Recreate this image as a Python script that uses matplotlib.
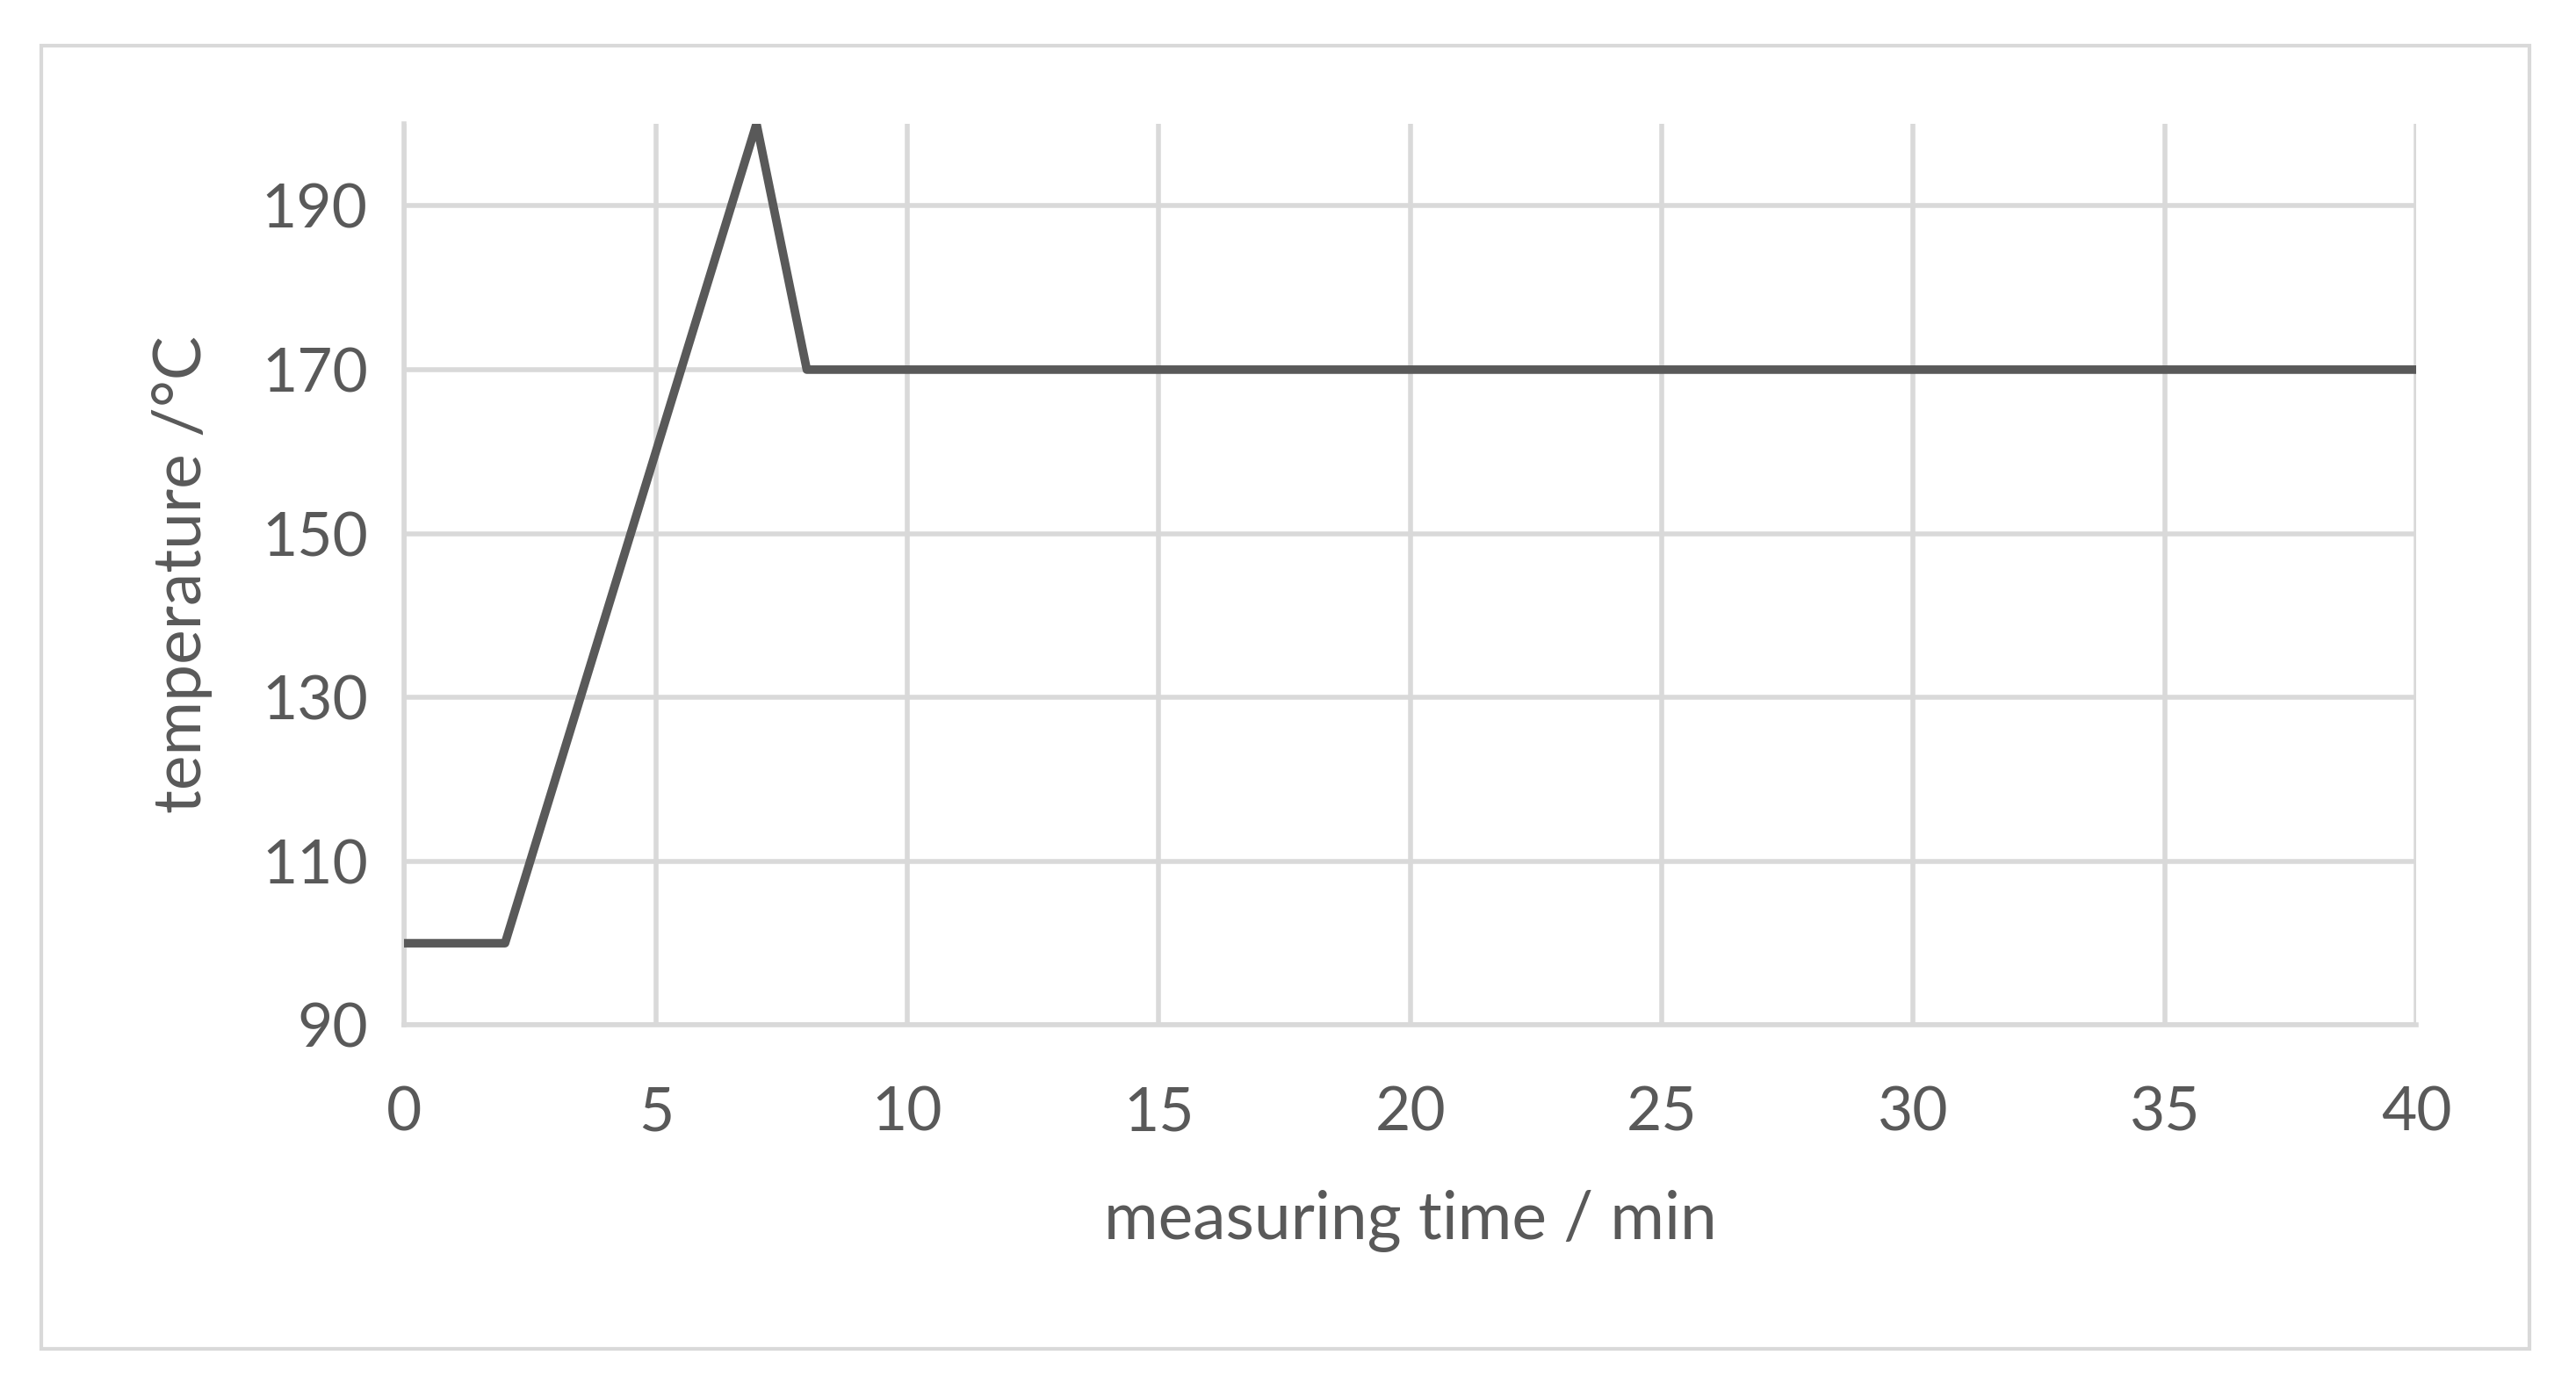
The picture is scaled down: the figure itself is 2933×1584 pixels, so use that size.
import matplotlib.pyplot as plt
from matplotlib.patches import Rectangle

time_min = [0, 2, 7, 8, 40]
temp_c = [100, 100, 200, 170, 170]
xticks = [0, 5, 10, 15, 20, 25, 30, 35, 40]
yticks = [90, 110, 130, 150, 170, 190]

plt.rcParams['font.family'] = ['Lato', 'DejaVu Sans']
grey = '#595959'
gridc = '#d9d9d9'

fig = plt.figure(figsize=(29.33, 15.84), dpi=100)
fig.patches.append(Rectangle((0.016, 0.030), 0.966, 0.937, transform=fig.transFigure,
                             fill=False, edgecolor=gridc, linewidth=3))
ax = fig.add_axes([0.157, 0.263, 0.781, 0.648])
ax.plot(time_min, temp_c, color=grey, linewidth=7, zorder=3)
ax.set_xlim(0, 40)
ax.set_ylim(90, 200)
ax.set_xticks(xticks)
ax.set_yticks(yticks)
ax.grid(True, color=gridc, linewidth=4)
for s in ['top', 'right']:
    ax.spines[s].set_visible(False)
for s in ['left', 'bottom']:
    ax.spines[s].set_color(gridc)
    ax.spines[s].set_linewidth(4)
ax.tick_params(length=0, labelsize=50, colors=grey)
ax.tick_params(axis='x', pad=50)
ax.tick_params(axis='y', pad=30)
ax.set_xlabel('measuring time / min', fontsize=54, color=grey, labelpad=40)
ax.set_ylabel('temperature /°C', fontsize=54, color=grey, labelpad=40)
fig.savefig('out.png')
